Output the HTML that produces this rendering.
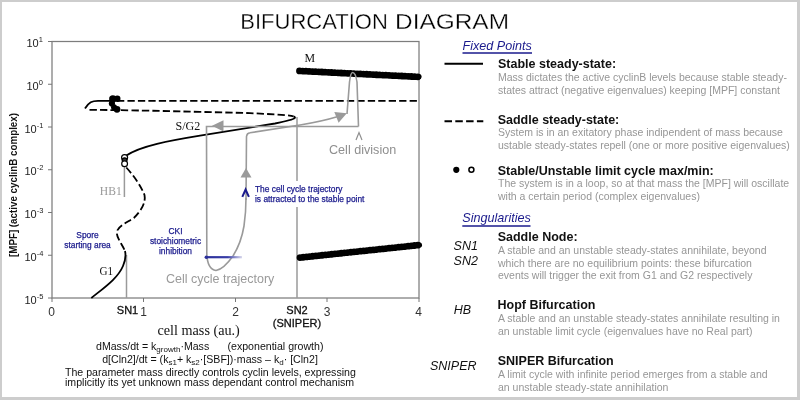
<!DOCTYPE html>
<html><head><meta charset="utf-8">
<style>
html,body{margin:0;padding:0;background:#fff;}
body{width:800px;height:400px;overflow:hidden;position:relative;}
svg{position:absolute;left:0;top:0;will-change:transform;}
text{font-family:"Liberation Sans",sans-serif;}
.serif{font-family:"Liberation Serif",serif;}
</style></head>
<body>
<svg width="800" height="400" viewBox="0 0 800 400">
<!-- frame -->
<rect x="0" y="0" width="800" height="400" fill="#cdcdcd"/>
<rect x="2" y="2" width="795" height="395" fill="#ffffff"/>

<!-- title -->
<g font-size="21.6" fill="#000" stroke="#fff" stroke-width="0.3">
<text x="240.3" y="29" textLength="147.5" lengthAdjust="spacingAndGlyphs">BIFURCATION</text>
<text x="395" y="29" textLength="114" lengthAdjust="spacingAndGlyphs">DIAGRAM</text>
</g>

<!-- plot box -->
<rect x="52" y="41.5" width="367" height="256.5" fill="none" stroke="#7d7d7d" stroke-width="1.25"/>
<!-- y ticks -->
<g stroke="#777" stroke-width="1">
<line x1="48" y1="41.5" x2="52" y2="41.5"/>
<line x1="48" y1="84.25" x2="52" y2="84.25"/>
<line x1="48" y1="127" x2="52" y2="127"/>
<line x1="48" y1="169.75" x2="52" y2="169.75"/>
<line x1="48" y1="212.5" x2="52" y2="212.5"/>
<line x1="48" y1="255.25" x2="52" y2="255.25"/>
<line x1="48" y1="298" x2="52" y2="298"/>
<line x1="52" y1="298" x2="52" y2="302"/>
<line x1="143.5" y1="298" x2="143.5" y2="302"/>
<line x1="235.5" y1="298" x2="235.5" y2="302"/>
<line x1="327" y1="298" x2="327" y2="302"/>
<line x1="419" y1="298" x2="419" y2="302"/>
</g>
<!-- y labels -->
<g font-size="11" fill="#222">
<text x="26.5" y="47">10<tspan font-size="7.5" dy="-4.8">1</tspan></text>
<text x="26.5" y="89.75">10<tspan font-size="7.5" dy="-4.8">0</tspan></text>
<text x="24.5" y="132.5">10<tspan font-size="7.5" dy="-4.8">-1</tspan></text>
<text x="24.5" y="175.25">10<tspan font-size="7.5" dy="-4.8">-2</tspan></text>
<text x="24.5" y="218">10<tspan font-size="7.5" dy="-4.8">-3</tspan></text>
<text x="24.5" y="260.75">10<tspan font-size="7.5" dy="-4.8">-4</tspan></text>
<text x="24.5" y="303.5">10<tspan font-size="7.5" dy="-4.8">-5</tspan></text>
</g>
<!-- x labels -->
<g font-size="12" fill="#333" text-anchor="middle">
<text x="51.5" y="316.3">0</text>
<text x="143.5" y="316.3">1</text>
<text x="235.5" y="316.3">2</text>
<text x="327" y="316.3">3</text>
<text x="418.7" y="316.3">4</text>
</g>
<g font-size="11" fill="#111" stroke="#111" stroke-width="0.3" text-anchor="middle">
<text x="127.5" y="313.5">SN1</text>
<text x="297" y="313.5">SN2</text>
<text x="297" y="326.5">(SNIPER)</text>
</g>
<!-- y axis label -->
<text transform="translate(16.8,185) rotate(-90)" font-size="11.4" font-weight="bold" fill="#111" text-anchor="middle" textLength="144" lengthAdjust="spacingAndGlyphs">[MPF] (active cyclinB complex)</text>

<!-- grey vertical lines SN1, HB1, SN2 -->
<g stroke="#9a9a9a" stroke-width="1.5" fill="none">
<line x1="126.5" y1="255" x2="126.5" y2="298"/>
<line x1="124.4" y1="165" x2="124.4" y2="197"/>
<line x1="297" y1="117" x2="297" y2="298"/>
</g>

<!-- bifurcation curves -->
<g fill="none" stroke="#000" stroke-width="1.8">
<!-- top solid hook -->
<path d="M85,108.5 C89,102 92,100.8 98,100.8 L111,100.8"/>
<!-- G1 solid bottom -->
<path d="M91.3,298 C105,287 118,278 123,266 C125.5,260 126,255 125,251"/>
<!-- S/G2 solid -->
<path d="M126.3,155.6 C140,146 170,140.5 200,135.6 L275,123.5 C286,121.3 293,119.8 294.6,118.2 C295.5,117.2 294.5,116.6 293.5,116.3"/>
</g>
<g fill="none" stroke="#000" stroke-width="1.8" stroke-dasharray="7.3 3.15">
<!-- upper dashed -->
<path d="M117,100.8 L419,100.8"/>
<!-- lower dashed returning -->
<path d="M89.5,109.8 C150,110.5 170,111.2 200,111.9 L250,113.1 L275,114.4 C282,114.8 290,115.4 293.5,116.3"/>
<!-- lower S dashed -->
<path d="M126.3,167.5 C134,176 141,186 144.5,195 C146,203 141,211 133.8,218 C126,223 118,226 116.8,232 C116.5,238 122,244 125,251"/>
</g>
<!-- top-left blob of limit cycle dots -->
<g fill="#000">
<circle cx="112.8" cy="99" r="3.7"/>
<circle cx="117.3" cy="98.8" r="3.2"/>
<circle cx="111.9" cy="103.5" r="3.1"/>
<circle cx="114" cy="107.2" r="3"/>
<circle cx="117" cy="109.3" r="3.4"/>
</g>
<!-- HB1 open circles -->
<g fill="#fff" stroke="#000" stroke-width="1.2">
<circle cx="124.6" cy="157.6" r="3"/>
<circle cx="124.6" cy="160.2" r="2.4" fill="#333"/>
<circle cx="124.6" cy="163.7" r="2.9"/>
</g>
<!-- thick limit cycle lines -->
<g stroke="#000" stroke-width="5.2" stroke-linecap="round">
<line x1="299.5" y1="70.9" x2="419" y2="76.9"/>
<line x1="300" y1="257.6" x2="419.5" y2="245"/>
</g>
<g stroke="#000" stroke-width="6.8" stroke-linecap="round" stroke-dasharray="0 3.2">
<line x1="299.5" y1="70.9" x2="419.5" y2="76.9"/>
<line x1="300" y1="257.6" x2="419.5" y2="245"/>
</g>

<!-- trajectory -->
<g fill="none" stroke="#9a9a9a" stroke-width="1.6">
<path d="M358.5,126.5 L206.5,126.5 L206.8,250 C206.5,262 209,269.5 216,270.5 C222,269.5 228,263 233,256 C238,248 242,238 244,226 C245.5,216 246,205 246,198"/>
<path d="M246,200 L246.5,136.5 C246.8,133.6 248,133 250,132.75 C270,129.5 290,126.6 300,125 C315,122.5 325,120.5 338,116.5"/>
<path d="M347,114 L349.5,82 C350.5,74 351.5,72.5 352.5,72.5 C354,72.5 356,75 357,82 L358.5,126.5"/>
</g>
<g fill="#9a9a9a">
<path d="M212,125.8 L223.5,120.3 L223.5,131.4 Z"/>
<path d="M246,168 L240.5,177.6 L251.5,177.6 Z"/>
<path d="M346.8,113.3 L334.3,112 L338.6,122.8 Z"/>
</g>
<!-- CKI blue line -->
<defs><linearGradient id="bl" x1="0" x2="1" y1="0" y2="0"><stop offset="0" stop-color="#2a2f9a"/><stop offset="0.6" stop-color="#3a3fa8"/><stop offset="1" stop-color="#d8d8ec"/></linearGradient></defs>
<rect x="206" y="256.1" width="36" height="2.2" fill="url(#bl)"/>
<circle cx="206.3" cy="257.2" r="1.7" fill="#2a2f9a"/>
<!-- blue caret -->
<path d="M242.3,196.8 L245.6,189.5 L248.9,196.8" fill="none" stroke="#1a1a8c" stroke-width="2"/>
<!-- grey caret -->
<path d="M356,140 L359,132.5 L362,140" fill="none" stroke="#8f8f8f" stroke-width="1.2"/>

<!-- plot annotations -->
<text class="serif" x="304.4" y="61.5" font-size="12.5" fill="#111" textLength="10.6" lengthAdjust="spacingAndGlyphs">M</text>
<text class="serif" x="175.5" y="130.3" font-size="12.6" fill="#111" textLength="24.8" lengthAdjust="spacingAndGlyphs">S/G2</text>
<text class="serif" x="99.8" y="194.7" font-size="11.6" fill="#999">HB1</text>
<text class="serif" x="99.5" y="274.7" font-size="12.5" fill="#111" textLength="13.6" lengthAdjust="spacingAndGlyphs">G1</text>
<text x="329" y="154" font-size="12.6" fill="#8f8f8f">Cell division</text>
<text x="166" y="283" font-size="12.5" fill="#9a9a9a">Cell cycle trajectory</text>
<rect x="252" y="181" width="116" height="26" fill="#fff"/>
<g font-size="8.4" fill="#1a1a8c" stroke="#1a1a8c" stroke-width="0.25">
<text x="255" y="192">The cell cycle trajectory</text>
<text x="255" y="201.6">is attracted to the stable point</text>
</g>
<g font-size="8.4" fill="#1a1a8c" stroke="#1a1a8c" stroke-width="0.25" text-anchor="middle">
<text x="175.5" y="233.7">CKI</text>
<text x="175.5" y="243.6">stoichiometric</text>
<text x="175.5" y="253.6">inhibition</text>
<text x="87.5" y="237.7">Spore</text>
<text x="87.5" y="247.5">starting area</text>
</g>

<!-- cell mass label & equations -->
<text class="serif" x="157.5" y="335" font-size="14.2" fill="#111">cell mass (au.)</text>
<g font-size="10.6" fill="#111">
<text x="96" y="350">dMass/dt = k<tspan font-size="8" dy="2">growth</tspan><tspan dy="-2">·Mass</tspan></text>
<text x="227.5" y="350">(exponential growth)</text>
<text x="102.2" y="362.5">d[Cln2]/dt = (k<tspan font-size="8" dy="2">s1</tspan><tspan dy="-2">+ k</tspan><tspan font-size="8" dy="2">s2</tspan><tspan dy="-2">·[SBF])·mass – k</tspan><tspan font-size="8" dy="2">d</tspan><tspan dy="-2">· [Cln2]</tspan></text>
<text x="65" y="376">The parameter mass directly controls cyclin levels, expressing</text>
<text x="65" y="386">implicitly its yet unknown mass dependant control mechanism</text>
</g>

<!-- legend -->
<g font-size="12.6" font-style="italic" fill="#1a1a8c">
<text x="462.5" y="49.6">Fixed Points</text>
<text x="462.3" y="222">Singularities</text>
</g>
<g stroke="#1a1a8c" stroke-width="1.3">
<line x1="462.5" y1="53" x2="532" y2="53"/>
<line x1="462.3" y1="226" x2="530.5" y2="226"/>
</g>
<line x1="444.5" y1="63.8" x2="483" y2="63.8" stroke="#000" stroke-width="2"/>
<line x1="444.5" y1="121.3" x2="483.3" y2="121.3" stroke="#000" stroke-width="2" stroke-dasharray="7.5 3.3"/>
<circle cx="456.3" cy="169.8" r="3.1" fill="#000"/>
<circle cx="471.4" cy="169.8" r="2.5" fill="#fff" stroke="#000" stroke-width="1.5"/>

<g font-size="12.5" font-weight="bold" fill="#111">
<text x="498" y="68.3">Stable steady-state:</text>
<text x="497.7" y="123.9">Saddle steady-state:</text>
<text x="497.7" y="174.5">Stable/Unstable limit cycle max/min:</text>
<text x="497.7" y="241">Saddle Node:</text>
<text x="497.5" y="309.3">Hopf Bifurcation</text>
<text x="497.75" y="364.75">SNIPER Bifurcation</text>
</g>
<g font-size="12.5" font-style="italic" fill="#111">
<text x="453.6" y="250.4">SN1</text>
<text x="453.6" y="265.4">SN2</text>
<text x="453.75" y="314.25">HB</text>
<text x="430" y="370">SNIPER</text>
</g>
<g font-size="10.5" fill="#969696">
<text x="498" y="81.2">Mass dictates the active cyclinB levels because stable steady-</text>
<text x="498" y="94">states attract (negative eigenvalues) keeping [MPF] constant</text>
<text x="498" y="136">System is in an exitatory phase indipendent of mass because</text>
<text x="498" y="148.8">ustable steady-states repell (one or more positive eigenvalues)</text>
<text x="498" y="186.9">The system is in a loop, so at that mass the [MPF] will oscillate</text>
<text x="498" y="199.5">with a certain period (complex eigenvalues)</text>
<text x="498" y="254">A stable and an unstable steady-states annihilate, beyond</text>
<text x="498" y="266.7">which there are no equilibrium points: these bifurcation</text>
<text x="498" y="279.3">events will trigger the exit from G1 and G2 respectively</text>
<text x="498" y="322">A stable and an unstable steady-states annihilate resulting in</text>
<text x="498" y="334.5">an unstable limit cycle (eigenvalues have no Real part)</text>
<text x="498" y="377.5">A limit cycle with infinite period emerges from a stable and</text>
<text x="498" y="390.5">an unstable steady-state annihilation</text>
</g>
</svg>
</body></html>
